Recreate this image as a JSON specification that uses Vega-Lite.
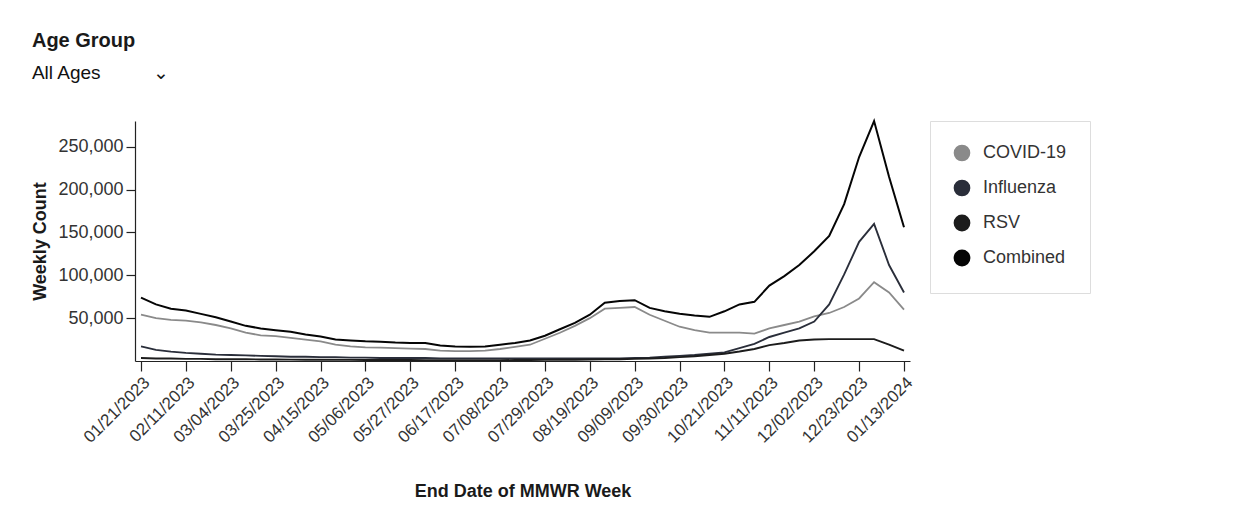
{
  "$schema": "https://vega.github.io/schema/vega-lite/v6.json",
  "width": 775,
  "height": 240,
  "autosize": {"type": "pad"},
  "padding": {"left": 31, "top": 31, "right": 5, "bottom": 5},
  "background": "white",
  "title": {
    "text": "Age Group",
    "subtitle": "\u00a0All Ages\u00a0\u00a0\u00a0\u00a0\u00a0\u00a0\u00a0\u00a0\u00a0\u00a0\u2304",
    "anchor": "start",
    "frame": "bounds",
    "font": "Liberation Sans",
    "fontSize": 20,
    "fontWeight": "bold",
    "color": "#1a1a1a",
    "subtitleFont": "Liberation Sans",
    "subtitleFontSize": 19,
    "subtitleColor": "#111111",
    "subtitlePadding": 13,
    "offset": 34
  },
  "data": {
    "values": [
      {"week": "2023-01-21", "COVID-19": 54000, "Influenza": 17000, "RSV": 3500, "Combined": 74000},
      {"week": "2023-01-28", "COVID-19": 50000, "Influenza": 13000, "RSV": 3000, "Combined": 66000},
      {"week": "2023-02-04", "COVID-19": 48000, "Influenza": 11000, "RSV": 3000, "Combined": 61000},
      {"week": "2023-02-11", "COVID-19": 47000, "Influenza": 9500, "RSV": 2500, "Combined": 59000},
      {"week": "2023-02-18", "COVID-19": 45000, "Influenza": 8500, "RSV": 2500, "Combined": 55000},
      {"week": "2023-02-25", "COVID-19": 42000, "Influenza": 7500, "RSV": 2000, "Combined": 51000},
      {"week": "2023-03-04", "COVID-19": 38000, "Influenza": 7000, "RSV": 2000, "Combined": 46000},
      {"week": "2023-03-11", "COVID-19": 33000, "Influenza": 6500, "RSV": 2000, "Combined": 41000},
      {"week": "2023-03-18", "COVID-19": 30000, "Influenza": 6000, "RSV": 1800, "Combined": 38000},
      {"week": "2023-03-25", "COVID-19": 29000, "Influenza": 5500, "RSV": 1700, "Combined": 36000},
      {"week": "2023-04-01", "COVID-19": 27000, "Influenza": 5000, "RSV": 1600, "Combined": 34000},
      {"week": "2023-04-08", "COVID-19": 25000, "Influenza": 5000, "RSV": 1500, "Combined": 31000},
      {"week": "2023-04-15", "COVID-19": 23000, "Influenza": 4500, "RSV": 1500, "Combined": 28500},
      {"week": "2023-04-22", "COVID-19": 19000, "Influenza": 4500, "RSV": 1400, "Combined": 25000},
      {"week": "2023-04-29", "COVID-19": 17000, "Influenza": 4000, "RSV": 1300, "Combined": 24000},
      {"week": "2023-05-06", "COVID-19": 16000, "Influenza": 4000, "RSV": 1200, "Combined": 23000},
      {"week": "2023-05-13", "COVID-19": 15500, "Influenza": 3500, "RSV": 1200, "Combined": 22500},
      {"week": "2023-05-20", "COVID-19": 15000, "Influenza": 3500, "RSV": 1100, "Combined": 21500},
      {"week": "2023-05-27", "COVID-19": 14500, "Influenza": 3500, "RSV": 1100, "Combined": 21000},
      {"week": "2023-06-03", "COVID-19": 14000, "Influenza": 3500, "RSV": 1000, "Combined": 21000},
      {"week": "2023-06-10", "COVID-19": 12000, "Influenza": 3000, "RSV": 1000, "Combined": 18000},
      {"week": "2023-06-17", "COVID-19": 11500, "Influenza": 3000, "RSV": 1000, "Combined": 17000},
      {"week": "2023-06-24", "COVID-19": 11500, "Influenza": 3000, "RSV": 1000, "Combined": 16500},
      {"week": "2023-07-01", "COVID-19": 12000, "Influenza": 3000, "RSV": 1000, "Combined": 17000},
      {"week": "2023-07-08", "COVID-19": 14000, "Influenza": 3000, "RSV": 1000, "Combined": 19000},
      {"week": "2023-07-15", "COVID-19": 16500, "Influenza": 3000, "RSV": 1100, "Combined": 21000},
      {"week": "2023-07-22", "COVID-19": 19000, "Influenza": 3000, "RSV": 1200, "Combined": 24000},
      {"week": "2023-07-29", "COVID-19": 26000, "Influenza": 3000, "RSV": 1300, "Combined": 29500},
      {"week": "2023-08-05", "COVID-19": 33000, "Influenza": 3000, "RSV": 1400, "Combined": 37000},
      {"week": "2023-08-12", "COVID-19": 41000, "Influenza": 3000, "RSV": 1500, "Combined": 44500},
      {"week": "2023-08-19", "COVID-19": 50000, "Influenza": 3000, "RSV": 1700, "Combined": 54000},
      {"week": "2023-08-26", "COVID-19": 61000, "Influenza": 3000, "RSV": 2000, "Combined": 68000},
      {"week": "2023-09-02", "COVID-19": 62000, "Influenza": 3000, "RSV": 2000, "Combined": 70000},
      {"week": "2023-09-09", "COVID-19": 63000, "Influenza": 3500, "RSV": 2500, "Combined": 71000},
      {"week": "2023-09-16", "COVID-19": 54000, "Influenza": 4000, "RSV": 3000, "Combined": 62000},
      {"week": "2023-09-23", "COVID-19": 47000, "Influenza": 5000, "RSV": 3500, "Combined": 58000},
      {"week": "2023-09-30", "COVID-19": 40000, "Influenza": 6000, "RSV": 4500, "Combined": 55000},
      {"week": "2023-10-07", "COVID-19": 36000, "Influenza": 7000, "RSV": 5500, "Combined": 53000},
      {"week": "2023-10-14", "COVID-19": 33000, "Influenza": 8500, "RSV": 7000, "Combined": 51500},
      {"week": "2023-10-21", "COVID-19": 33000, "Influenza": 10000, "RSV": 8500, "Combined": 58000},
      {"week": "2023-10-28", "COVID-19": 33000, "Influenza": 15000, "RSV": 11000, "Combined": 66000},
      {"week": "2023-11-04", "COVID-19": 32000, "Influenza": 20000, "RSV": 14000, "Combined": 69000},
      {"week": "2023-11-11", "COVID-19": 38000, "Influenza": 28000, "RSV": 18500, "Combined": 88000},
      {"week": "2023-11-18", "COVID-19": 42000, "Influenza": 33000, "RSV": 21000, "Combined": 99000},
      {"week": "2023-11-25", "COVID-19": 46000, "Influenza": 38000, "RSV": 24000, "Combined": 112000},
      {"week": "2023-12-02", "COVID-19": 52000, "Influenza": 46000, "RSV": 25000, "Combined": 128000},
      {"week": "2023-12-09", "COVID-19": 56000, "Influenza": 66000, "RSV": 25500, "Combined": 146000},
      {"week": "2023-12-16", "COVID-19": 63000, "Influenza": 101000, "RSV": 25500, "Combined": 183000},
      {"week": "2023-12-23", "COVID-19": 73000, "Influenza": 139000, "RSV": 25500, "Combined": 238000},
      {"week": "2023-12-30", "COVID-19": 92000, "Influenza": 160000, "RSV": 25500, "Combined": 280000},
      {"week": "2024-01-06", "COVID-19": 80000, "Influenza": 112000, "RSV": 19000, "Combined": 215000},
      {"week": "2024-01-13", "COVID-19": 60000, "Influenza": 80000, "RSV": 12000, "Combined": 156000}
    ]
  },
  "transform": [
    {"fold": ["COVID-19", "Influenza", "RSV", "Combined"], "as": ["series", "count"]}
  ],
  "mark": {"type": "line", "interpolate": "linear"},
  "encoding": {
    "x": {
      "field": "week",
      "type": "temporal",
      "scale": {"type": "utc", "padding": 6},
      "axis": {
        "title": "End Date of MMWR Week",
        "values": [
          {"year": 2023, "month": 1, "date": 21, "utc": true},
          {"year": 2023, "month": 2, "date": 11, "utc": true},
          {"year": 2023, "month": 3, "date": 4, "utc": true},
          {"year": 2023, "month": 3, "date": 25, "utc": true},
          {"year": 2023, "month": 4, "date": 15, "utc": true},
          {"year": 2023, "month": 5, "date": 6, "utc": true},
          {"year": 2023, "month": 5, "date": 27, "utc": true},
          {"year": 2023, "month": 6, "date": 17, "utc": true},
          {"year": 2023, "month": 7, "date": 8, "utc": true},
          {"year": 2023, "month": 7, "date": 29, "utc": true},
          {"year": 2023, "month": 8, "date": 19, "utc": true},
          {"year": 2023, "month": 9, "date": 9, "utc": true},
          {"year": 2023, "month": 9, "date": 30, "utc": true},
          {"year": 2023, "month": 10, "date": 21, "utc": true},
          {"year": 2023, "month": 11, "date": 11, "utc": true},
          {"year": 2023, "month": 12, "date": 2, "utc": true},
          {"year": 2023, "month": 12, "date": 23, "utc": true},
          {"year": 2024, "month": 1, "date": 13, "utc": true}
        ],
        "format": "%m/%d/%Y",
        "labelAngle": -45,
        "labelFontSize": 17,
        "labelColor": "#333333",
        "labelPadding": 3,
        "labelOverlap": false,
        "tickSize": 10,
        "titleFontSize": 18,
        "titleFontWeight": "bold",
        "titleColor": "#1a1a1a",
        "titlePadding": 37
      }
    },
    "y": {
      "field": "count",
      "type": "quantitative",
      "scale": {"domain": [0, 280000], "nice": false},
      "axis": {
        "title": "Weekly Count",
        "values": [50000, 100000, 150000, 200000, 250000],
        "format": ",d",
        "labelFontSize": 18,
        "labelColor": "#333333",
        "labelPadding": 3,
        "tickSize": 9,
        "titleFontSize": 18,
        "titleFontWeight": "bold",
        "titleColor": "#1a1a1a",
        "titlePadding": 8
      }
    },
    "color": {
      "field": "series",
      "type": "nominal",
      "scale": {
        "domain": ["COVID-19", "Influenza", "RSV", "Combined"],
        "range": ["#8a8a8a", "#2a2e3a", "#1c1c1c", "#050505"]
      },
      "legend": {
        "title": null,
        "orient": "right",
        "offset": 20,
        "padding": 23,
        "strokeColor": "#dddddd",
        "symbolType": "circle",
        "symbolSize": 220,
        "symbolStrokeWidth": 0,
        "labelFontSize": 18,
        "labelColor": "#333333",
        "labelOffset": 12,
        "rowPadding": 11,
        "encode": {
          "legend": {
            "update": {
              "width": {"value": 255}
            }
          },
          "symbols": {
            "update": {
              "fill": {"scale": "color", "field": "value"},
              "fillOpacity": {"value": 1}
            }
          }
        }
      }
    },
    "strokeWidth": {
      "field": "series",
      "type": "nominal",
      "scale": {
        "domain": ["COVID-19", "Influenza", "RSV", "Combined"],
        "range": [1.8, 2, 2, 2.6]
      },
      "legend": null
    }
  },
  "config": {
    "font": "Liberation Sans",
    "view": {"stroke": null},
    "axis": {
      "grid": false,
      "domainColor": "#222222",
      "tickColor": "#222222",
      "domainWidth": 1.2,
      "tickWidth": 1.2
    }
  }
}
